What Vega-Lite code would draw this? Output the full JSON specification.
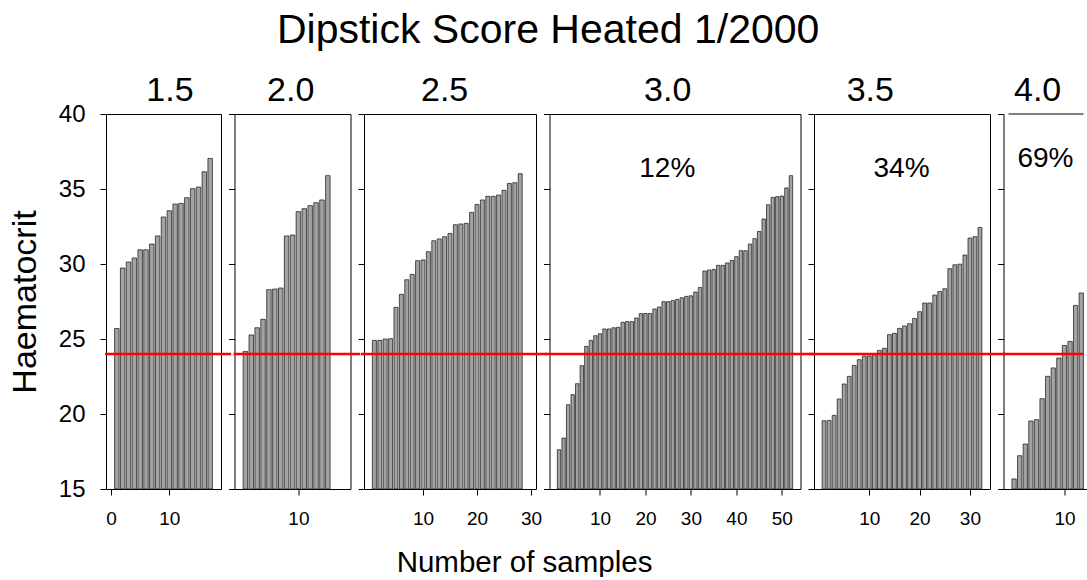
{
  "$schema": "https://vega.github.io/schema/vega-lite/v6.json",
  "padding": {"left": 7, "top": 9, "right": 0, "bottom": 0},
  "background": "white",
  "title": {"text": "Dipstick Score Heated 1/2000", "fontSize": 41, "fontWeight": "normal", "anchor": "middle", "offset": 22, "color": "black"},
  "config": {
    "font": "Liberation Sans",
    "view": {"stroke": "black", "strokeWidth": 1, "fill": null},
    "axis": {"grid": false, "domain": false, "tickColor": "black", "tickSize": 6, "tickWidth": 1, "labelColor": "black", "titleColor": "black", "titleFontWeight": "normal"},
    "title": {"fontWeight": "normal", "color": "black"}
  },
  "data": {"values": [
    {"s":"1.5","n":1,"h":25.7},{"s":"1.5","n":2,"h":29.73},{"s":"1.5","n":3,"h":30.13},{"s":"1.5","n":4,"h":30.4},{"s":"1.5","n":5,"h":30.95},{"s":"1.5","n":6,"h":30.95},{"s":"1.5","n":7,"h":31.33},{"s":"1.5","n":8,"h":31.87},{"s":"1.5","n":9,"h":33.13},{"s":"1.5","n":10,"h":33.55},{"s":"1.5","n":11,"h":34.0},{"s":"1.5","n":12,"h":34.04},{"s":"1.5","n":13,"h":34.42},{"s":"1.5","n":14,"h":35.02},{"s":"1.5","n":15,"h":35.13},{"s":"1.5","n":16,"h":36.15},{"s":"1.5","n":17,"h":37.04},
    {"s":"2.0","n":1,"h":24.17},{"s":"2.0","n":2,"h":25.27},{"s":"2.0","n":3,"h":25.75},{"s":"2.0","n":4,"h":26.31},{"s":"2.0","n":5,"h":28.29},{"s":"2.0","n":6,"h":28.33},{"s":"2.0","n":7,"h":28.4},{"s":"2.0","n":8,"h":31.87},{"s":"2.0","n":9,"h":31.93},{"s":"2.0","n":10,"h":33.49},{"s":"2.0","n":11,"h":33.69},{"s":"2.0","n":12,"h":33.89},{"s":"2.0","n":13,"h":34.09},{"s":"2.0","n":14,"h":34.27},{"s":"2.0","n":15,"h":35.89},
    {"s":"2.5","n":1,"h":24.91},{"s":"2.5","n":2,"h":24.91},{"s":"2.5","n":3,"h":25.0},{"s":"2.5","n":4,"h":25.02},{"s":"2.5","n":5,"h":27.11},{"s":"2.5","n":6,"h":27.98},{"s":"2.5","n":7,"h":28.95},{"s":"2.5","n":8,"h":29.31},{"s":"2.5","n":9,"h":30.22},{"s":"2.5","n":10,"h":30.27},{"s":"2.5","n":11,"h":30.82},{"s":"2.5","n":12,"h":31.55},{"s":"2.5","n":13,"h":31.67},{"s":"2.5","n":14,"h":31.82},{"s":"2.5","n":15,"h":32.04},{"s":"2.5","n":16,"h":32.62},{"s":"2.5","n":17,"h":32.67},{"s":"2.5","n":18,"h":32.71},{"s":"2.5","n":19,"h":33.44},{"s":"2.5","n":20,"h":33.97},{"s":"2.5","n":21,"h":34.27},{"s":"2.5","n":22,"h":34.51},{"s":"2.5","n":23,"h":34.51},{"s":"2.5","n":24,"h":34.6},{"s":"2.5","n":25,"h":34.91},{"s":"2.5","n":26,"h":35.37},{"s":"2.5","n":27,"h":35.42},{"s":"2.5","n":28,"h":36.02},
    {"s":"3.0","n":1,"h":17.62},{"s":"3.0","n":2,"h":18.4},{"s":"3.0","n":3,"h":20.62},{"s":"3.0","n":4,"h":21.29},{"s":"3.0","n":5,"h":22.02},{"s":"3.0","n":6,"h":23.22},{"s":"3.0","n":7,"h":24.51},{"s":"3.0","n":8,"h":24.91},{"s":"3.0","n":9,"h":25.22},{"s":"3.0","n":10,"h":25.35},{"s":"3.0","n":11,"h":25.67},{"s":"3.0","n":12,"h":25.67},{"s":"3.0","n":13,"h":25.75},{"s":"3.0","n":14,"h":25.78},{"s":"3.0","n":15,"h":26.11},{"s":"3.0","n":16,"h":26.16},{"s":"3.0","n":17,"h":26.16},{"s":"3.0","n":18,"h":26.4},{"s":"3.0","n":19,"h":26.69},{"s":"3.0","n":20,"h":26.7},{"s":"3.0","n":21,"h":26.7},{"s":"3.0","n":22,"h":27.0},{"s":"3.0","n":23,"h":27.13},{"s":"3.0","n":24,"h":27.49},{"s":"3.0","n":25,"h":27.49},{"s":"3.0","n":26,"h":27.56},{"s":"3.0","n":27,"h":27.64},{"s":"3.0","n":28,"h":27.75},{"s":"3.0","n":29,"h":27.84},{"s":"3.0","n":30,"h":27.88},{"s":"3.0","n":31,"h":28.13},{"s":"3.0","n":32,"h":28.44},{"s":"3.0","n":33,"h":29.53},{"s":"3.0","n":34,"h":29.6},{"s":"3.0","n":35,"h":29.64},{"s":"3.0","n":36,"h":29.91},{"s":"3.0","n":37,"h":29.91},{"s":"3.0","n":38,"h":30.07},{"s":"3.0","n":39,"h":30.24},{"s":"3.0","n":40,"h":30.49},{"s":"3.0","n":41,"h":30.89},{"s":"3.0","n":42,"h":30.89},{"s":"3.0","n":43,"h":31.33},{"s":"3.0","n":44,"h":31.69},{"s":"3.0","n":45,"h":32.17},{"s":"3.0","n":46,"h":33.0},{"s":"3.0","n":47,"h":33.95},{"s":"3.0","n":48,"h":34.44},{"s":"3.0","n":49,"h":34.49},{"s":"3.0","n":50,"h":34.53},{"s":"3.0","n":51,"h":35.07},{"s":"3.0","n":52,"h":35.89},
    {"s":"3.5","n":1,"h":19.55},{"s":"3.5","n":2,"h":19.57},{"s":"3.5","n":3,"h":19.91},{"s":"3.5","n":4,"h":21.0},{"s":"3.5","n":5,"h":22.0},{"s":"3.5","n":6,"h":22.51},{"s":"3.5","n":7,"h":23.24},{"s":"3.5","n":8,"h":23.62},{"s":"3.5","n":9,"h":23.87},{"s":"3.5","n":10,"h":23.87},{"s":"3.5","n":11,"h":23.95},{"s":"3.5","n":12,"h":24.24},{"s":"3.5","n":13,"h":24.38},{"s":"3.5","n":14,"h":25.29},{"s":"3.5","n":15,"h":25.38},{"s":"3.5","n":16,"h":25.71},{"s":"3.5","n":17,"h":25.87},{"s":"3.5","n":18,"h":26.02},{"s":"3.5","n":19,"h":26.37},{"s":"3.5","n":20,"h":26.82},{"s":"3.5","n":21,"h":27.4},{"s":"3.5","n":22,"h":27.4},{"s":"3.5","n":23,"h":27.93},{"s":"3.5","n":24,"h":28.17},{"s":"3.5","n":25,"h":28.35},{"s":"3.5","n":26,"h":29.69},{"s":"3.5","n":27,"h":29.95},{"s":"3.5","n":28,"h":29.99},{"s":"3.5","n":29,"h":30.6},{"s":"3.5","n":30,"h":31.73},{"s":"3.5","n":31,"h":31.82},{"s":"3.5","n":32,"h":32.44},
    {"s":"4.0","n":1,"h":15.67},{"s":"4.0","n":2,"h":17.22},{"s":"4.0","n":3,"h":18.0},{"s":"4.0","n":4,"h":19.53},{"s":"4.0","n":5,"h":19.62},{"s":"4.0","n":6,"h":21.02},{"s":"4.0","n":7,"h":22.51},{"s":"4.0","n":8,"h":23.07},{"s":"4.0","n":9,"h":23.73},{"s":"4.0","n":10,"h":24.57},{"s":"4.0","n":11,"h":24.84},{"s":"4.0","n":12,"h":27.24},{"s":"4.0","n":13,"h":28.07}
  ]},
  "bounds": "flush",
  "spacing": 13.5,
  "hconcat": [
    {
      "width": 115, "height": 375,
      "layer": [
        {
          "transform": [{"filter": "datum.s === '1.5'"}],
          "mark": {"type": "bar", "width": 4.5, "fill": "#a3a3a3", "stroke": "#111111", "strokeWidth": 0.7},
          "encoding": {
            "x": {"field": "n", "type": "quantitative", "scale": {"domain": [0, 18], "nice": false, "zero": false}, "axis": {"values": [0, 10], "title": null, "labelFontSize": 19, "labelPadding": 14}},
            "y": {"field": "h", "type": "quantitative", "scale": {"domain": [15, 40], "nice": false, "zero": false}, "axis": {"values": [15, 20, 25, 30, 35, 40], "title": "Haematocrit", "titleFontSize": 34, "titlePadding": 16, "labelFontSize": 24, "labelPadding": 15}},
            "y2": {"datum": 15}
          }
        },
        {
          "data": {"values": [{}]},
          "mark": {"type": "rule", "color": "#ff0000", "strokeWidth": 2.5},
          "encoding": {"x": {"datum": -1, "type": "quantitative"}, "x2": {"datum": 20.6}, "y": {"datum": 24, "type": "quantitative"}}
        },
        {
          "data": {"values": [{}]},
          "mark": {"type": "text", "fontSize": 34, "baseline": "alphabetic", "align": "center", "color": "black"},
          "encoding": {"x": {"datum": 10.1, "type": "quantitative"}, "y": {"datum": 40.84, "type": "quantitative"}, "text": {"value": "1.5"}}
        }
      ]
    },
    {
      "width": 116, "height": 375,
      "layer": [
        {
          "transform": [{"filter": "datum.s === '2.0'"}],
          "mark": {"type": "bar", "width": 4.5, "fill": "#a3a3a3", "stroke": "#111111", "strokeWidth": 0.7},
          "encoding": {
            "x": {"field": "n", "type": "quantitative", "scale": {"domain": [0, 18], "nice": false, "zero": false}, "axis": {"values": [10], "title": null, "labelFontSize": 19, "labelPadding": 14}},
            "y": {"field": "h", "type": "quantitative", "scale": {"domain": [15, 40], "nice": false, "zero": false}, "axis": {"values": [15, 20, 25, 30, 35, 40], "title": null, "labels": false}},
            "y2": {"datum": 15}
          }
        },
        {
          "data": {"values": [{}]},
          "mark": {"type": "rule", "color": "#ff0000", "strokeWidth": 2.5},
          "encoding": {"x": {"datum": -1, "type": "quantitative"}, "x2": {"datum": 20.5}, "y": {"datum": 24, "type": "quantitative"}}
        },
        {
          "data": {"values": [{}]},
          "mark": {"type": "text", "fontSize": 34, "baseline": "alphabetic", "align": "center", "color": "black"},
          "encoding": {"x": {"datum": 8.7, "type": "quantitative"}, "y": {"datum": 40.84, "type": "quantitative"}, "text": {"value": "2.0"}}
        }
      ]
    },
    {
      "width": 172, "height": 375,
      "layer": [
        {
          "transform": [{"filter": "datum.s === '2.5'"}],
          "mark": {"type": "bar", "width": 4, "fill": "#a3a3a3", "stroke": "#111111", "strokeWidth": 0.7},
          "encoding": {
            "x": {"field": "n", "type": "quantitative", "scale": {"domain": [0, 30], "nice": false, "zero": false}, "axis": {"values": [10, 20, 30], "title": "Number of samples", "titleFontSize": 29.5, "titleX": 160, "titleY": 82, "titleAlign": "center", "titleBaseline": "alphabetic", "labelFontSize": 19, "labelPadding": 14}},
            "y": {"field": "h", "type": "quantitative", "scale": {"domain": [15, 40], "nice": false, "zero": false}, "axis": {"values": [15, 20, 25, 30, 35, 40], "title": null, "labels": false}},
            "y2": {"datum": 15}
          }
        },
        {
          "data": {"values": [{}]},
          "mark": {"type": "rule", "color": "#ff0000", "strokeWidth": 2.5},
          "encoding": {"x": {"datum": -1.5, "type": "quantitative"}, "x2": {"datum": 33}, "y": {"datum": 24, "type": "quantitative"}}
        },
        {
          "data": {"values": [{}]},
          "mark": {"type": "text", "fontSize": 34, "baseline": "alphabetic", "align": "center", "color": "black"},
          "encoding": {"x": {"datum": 14.0, "type": "quantitative"}, "y": {"datum": 40.84, "type": "quantitative"}, "text": {"value": "2.5"}}
        }
      ]
    },
    {
      "width": 251, "height": 375,
      "layer": [
        {
          "transform": [{"filter": "datum.s === '3.0'"}],
          "mark": {"type": "bar", "width": 3.4, "fill": "#a3a3a3", "stroke": "#111111", "strokeWidth": 0.7},
          "encoding": {
            "x": {"field": "n", "type": "quantitative", "scale": {"domain": [0, 53], "nice": false, "zero": false}, "axis": {"values": [10, 20, 30, 40, 50], "title": null, "labelFontSize": 19, "labelPadding": 14}},
            "y": {"field": "h", "type": "quantitative", "scale": {"domain": [15, 40], "nice": false, "zero": false}, "axis": {"values": [15, 20, 25, 30, 35, 40], "title": null, "labels": false}},
            "y2": {"datum": 15}
          }
        },
        {
          "data": {"values": [{}]},
          "mark": {"type": "rule", "color": "#ff0000", "strokeWidth": 2.5},
          "encoding": {"x": {"datum": -2, "type": "quantitative"}, "x2": {"datum": 57}, "y": {"datum": 24, "type": "quantitative"}}
        },
        {
          "data": {"values": [{}]},
          "mark": {"type": "text", "fontSize": 28, "baseline": "alphabetic", "align": "center", "color": "black"},
          "encoding": {"x": {"datum": 24.8, "type": "quantitative"}, "y": {"datum": 35.8, "type": "quantitative"}, "text": {"value": "12%"}}
        },
        {
          "data": {"values": [{}]},
          "mark": {"type": "text", "fontSize": 34, "baseline": "alphabetic", "align": "center", "color": "black"},
          "encoding": {"x": {"datum": 24.9, "type": "quantitative"}, "y": {"datum": 40.84, "type": "quantitative"}, "text": {"value": "3.0"}}
        }
      ]
    },
    {
      "width": 176, "height": 375,
      "layer": [
        {
          "transform": [{"filter": "datum.s === '3.5'"}],
          "mark": {"type": "bar", "width": 3.8, "fill": "#a3a3a3", "stroke": "#111111", "strokeWidth": 0.7},
          "encoding": {
            "x": {"field": "n", "type": "quantitative", "scale": {"domain": [0, 33], "nice": false, "zero": false}, "axis": {"values": [10, 20, 30], "title": null, "labelFontSize": 19, "labelPadding": 14}},
            "y": {"field": "h", "type": "quantitative", "scale": {"domain": [15, 40], "nice": false, "zero": false}, "axis": {"values": [15, 20, 25, 30, 35, 40], "title": null, "labels": false}},
            "y2": {"datum": 15}
          }
        },
        {
          "data": {"values": [{}]},
          "mark": {"type": "rule", "color": "#ff0000", "strokeWidth": 2.5},
          "encoding": {"x": {"datum": -2, "type": "quantitative"}, "x2": {"datum": 37}, "y": {"datum": 24, "type": "quantitative"}}
        },
        {
          "data": {"values": [{}]},
          "mark": {"type": "text", "fontSize": 28, "baseline": "alphabetic", "align": "center", "color": "black"},
          "encoding": {"x": {"datum": 16.4, "type": "quantitative"}, "y": {"datum": 35.8, "type": "quantitative"}, "text": {"value": "34%"}}
        },
        {
          "data": {"values": [{}]},
          "mark": {"type": "text", "fontSize": 34, "baseline": "alphabetic", "align": "center", "color": "black"},
          "encoding": {"x": {"datum": 10.2, "type": "quantitative"}, "y": {"datum": 40.84, "type": "quantitative"}, "text": {"value": "3.5"}}
        }
      ]
    },
    {
      "width": 85, "height": 375,
      "view": {"stroke": null},
      "layer": [
        {
          "transform": [{"filter": "datum.s === '4.0'"}],
          "mark": {"type": "bar", "width": 4.3, "fill": "#a3a3a3", "stroke": "#111111", "strokeWidth": 0.7, "clip": true},
          "encoding": {
            "x": {"field": "n", "type": "quantitative", "scale": {"domain": [0, 13.4], "nice": false, "zero": false}, "axis": {"values": [10], "title": null, "labelFontSize": 19, "labelPadding": 14, "domain": true, "domainColor": "black"}},
            "y": {"field": "h", "type": "quantitative", "scale": {"domain": [15, 40], "nice": false, "zero": false}, "axis": {"values": [15, 20, 25, 30, 35, 40], "title": null, "labels": false, "domain": true, "domainColor": "black"}},
            "y2": {"datum": 15}
          }
        },
        {
          "data": {"values": [{}]},
          "mark": {"type": "rule", "color": "#ff0000", "strokeWidth": 2.5},
          "encoding": {"x": {"datum": -1, "type": "quantitative"}, "x2": {"datum": 13.4}, "y": {"datum": 24, "type": "quantitative"}}
        },
        {
          "data": {"values": [{}]},
          "mark": {"type": "rule", "color": "black", "strokeWidth": 1},
          "encoding": {"x": {"datum": 0, "type": "quantitative"}, "x2": {"datum": 13.4}, "y": {"datum": 40, "type": "quantitative"}}
        },
        {
          "data": {"values": [{}]},
          "mark": {"type": "text", "fontSize": 28, "baseline": "alphabetic", "align": "center", "color": "black"},
          "encoding": {"x": {"datum": 6.6, "type": "quantitative"}, "y": {"datum": 36.5, "type": "quantitative"}, "text": {"value": "69%"}}
        },
        {
          "data": {"values": [{}]},
          "mark": {"type": "text", "fontSize": 34, "baseline": "alphabetic", "align": "center", "color": "black"},
          "encoding": {"x": {"datum": 5.2, "type": "quantitative"}, "y": {"datum": 40.84, "type": "quantitative"}, "text": {"value": "4.0"}}
        }
      ]
    }
  ]
}
